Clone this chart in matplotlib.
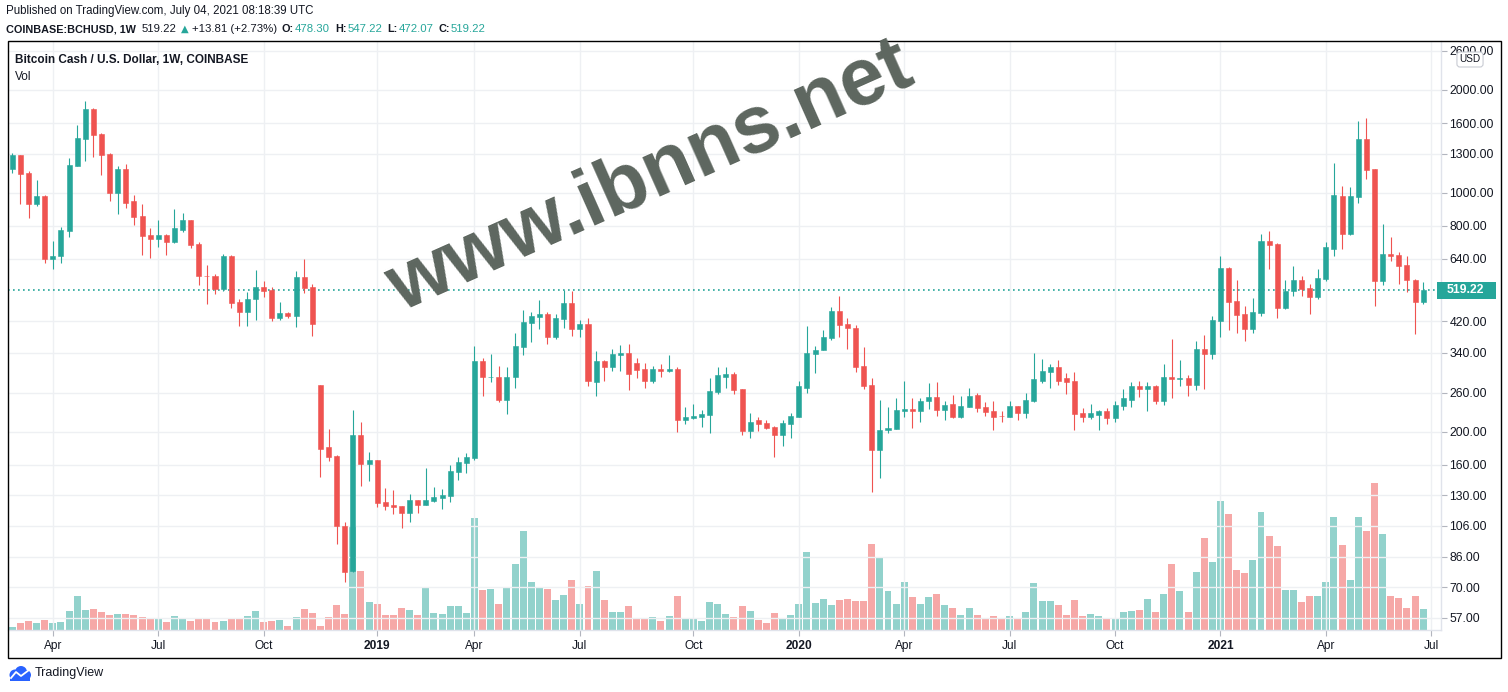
import matplotlib
matplotlib.use("Agg")
import matplotlib.pyplot as plt
from matplotlib.patches import Rectangle, Circle
from matplotlib.ticker import FixedLocator, NullLocator, FuncFormatter
import numpy as np
import pandas as pd

plt.rcParams["font.family"] = ["Liberation Sans", "DejaVu Sans"]

# weekly BCH/USD candles (Coinbase), first bar = week of 2018-02-26
first_week = "2018-02-26"

opens = [1172, 1287, 1143, 930, 977, 642, 651, 775, 1197, 1436, 1760, 1488, 1300, 998, 1172, 943, 853, 751, 734, 751, 719, 780,
         835, 709, 572, 570, 524, 655, 479, 448, 490, 530, 520, 429, 444, 435, 568, 530, 274, 180, 170, 106, 78.3, 196,
         160.4, 165, 124.4, 121.6, 121, 115.6, 126, 121.6, 125.2, 127.8, 129.7, 152, 161.6, 167.6, 321.6, 288.5, 289.8, 248, 288.5, 352.5, 415.5, 432,
         441, 377.5, 427, 476, 399, 412, 279.8, 321.6, 308, 335, 339, 316.5, 305.5, 281, 305.5, 301.5, 305.5, 216.6, 219.8, 221, 224, 261,
         289.8, 294, 266.3, 201, 215.5, 212, 206, 196, 211, 221, 269, 336.5, 346, 375, 451, 412, 403, 312, 274, 177, 202, 204,
         230, 233.5, 230, 245, 252, 232, 241.6, 221, 236.5, 255.5, 236.5, 230, 222.3, 221, 238, 227, 246.5, 282, 299, 308, 286, 281,
         227, 221, 224, 230, 219.8, 238, 248, 271, 267, 271, 245.3, 289.8, 284.5, 286.4, 274.5, 350, 336.5, 421, 604, 482, 441,
         399, 444, 724, 709, 460, 516, 556, 527, 495, 561, 686.5, 977, 759, 970, 1436, 1172, 552, 663, 658, 615, 556, 478.30]

highs = [1311, 1290, 1156, 1088, 984, 724, 792, 1264, 1581, 1862, 1773, 1498, 1308, 1194, 1214, 984, 930, 786, 835, 759, 894, 875,
         835, 719, 615, 579, 663, 658, 490, 513, 596, 552, 530, 479, 448, 592, 642, 541, 274, 204, 171, 108.5, 232, 213,
         174.5, 165, 136.6, 134.7, 121, 131, 126, 156.4, 137.6, 135.6, 159.6, 168.8, 173.2, 355, 328.6, 336.5, 312, 310, 388, 454.5, 448, 486,
         448, 441, 519, 515, 424, 429, 344, 325, 350, 358, 361, 329, 316.5, 312, 314.6, 334, 308, 236.5, 241.6, 232, 286, 308,
         308, 298, 266.3, 227, 221, 215.5, 207.5, 215.5, 227, 281, 407, 355, 395.5, 462.6, 498.5, 429, 409, 352.5, 286, 247, 236.5, 250,
         282, 250, 250, 277, 279, 246.5, 255.5, 253.6, 269, 259, 243.5, 245.3, 230, 246.5, 238, 259, 339, 327, 314.6, 325, 297, 299,
         235, 241.6, 232, 235, 246.5, 267, 279, 281, 279, 274.5, 314.6, 372, 323.4, 292, 367.4, 383.4, 435, 655, 608, 556, 466,
         493, 759, 775, 714, 556, 611, 570.6, 541, 600, 719, 1223, 1045, 1038, 1626, 1656, 1172, 812, 740, 672, 655, 560, 547.22]

lows = [1145, 928, 841, 913, 624, 600, 624, 742, 1197, 1237, 1272, 1127, 943, 869, 900, 803, 658, 646, 696, 658, 714, 770,
        688, 537, 472, 506, 517, 460, 407, 407, 424, 495, 421, 424, 429, 404, 509, 380, 147, 164, 93.5, 72.7, 77.8, 139,
        143, 120, 118, 115, 104.5, 109, 115.6, 121.6, 124.4, 119, 124, 144, 151, 165, 253.6, 279.8, 243.5, 225.5, 269, 335.6, 365, 399,
        361, 373, 401, 381, 377.5, 271, 253.6, 281, 300, 300, 265, 286, 269, 277.5, 289.8, 298, 199.5, 211, 217, 206.5, 197.6, 257,
        268, 257, 195, 191, 201, 203, 169, 182, 191, 221, 259.5, 296, 346, 370, 377.5, 350, 299, 266.7, 133, 146, 197.6, 204,
        221, 205, 214, 233.5, 222.7, 216.6, 219.8, 219.8, 236.5, 228.7, 222.7, 202, 214, 221, 215.5, 219.8, 243.5, 277, 267.5, 274.5, 257, 202,
        214, 218, 202, 211, 214, 232, 236.5, 251.8, 230, 241.6, 240, 250, 271, 253.6, 263.8, 267, 327, 377.5, 396, 388, 367.4,
        388, 435, 600, 429, 457, 498.5, 498.5, 441, 490, 552, 651, 686.5, 750, 932, 1095, 466, 537, 633, 541, 513, 385.5, 472.07]

closes = [1287, 1135, 930, 977, 642, 655, 780, 1206, 1447, 1760, 1477, 1290, 998, 1172, 936, 847, 745, 734, 751, 719, 786, 835,
          704, 570, 570, 524, 655, 476, 448, 490, 530, 517, 429, 444, 435, 568, 527, 412, 178, 169, 105.5, 77.8, 196, 160.4,
          165, 123.4, 121, 120.2, 115.6, 126, 121.6, 126, 128.8, 130.3, 153, 162.8, 168.8, 321.6, 288.5, 289.8, 248, 289.8, 355, 418, 435, 441,
          377.5, 429, 476, 399, 412, 281, 321.6, 310, 336.5, 339, 295.5, 303.5, 281, 305.5, 301.5, 305.5, 216.6, 221, 222.3, 225.5, 262.6, 292,
          294, 264.5, 201, 214, 211, 205, 196, 212, 222.7, 271, 339, 347.5, 377.5, 451, 409, 401, 310, 272.6, 177, 202, 205, 232,
          233.5, 230, 246, 252, 232, 240, 221, 238, 253.6, 235, 228.7, 221, 221.5, 238, 227, 248, 284.5, 300, 308, 282, 280, 225.5,
          221, 227, 230, 219.8, 240, 250, 271, 267, 271, 245.3, 289.8, 284.5, 286.4, 274.5, 350, 336.5, 424, 604, 479, 438, 399,
          448, 724, 704, 460, 516, 556, 523, 495, 564, 691.5, 984, 759, 977, 1436, 1164, 552, 663, 655, 611, 556, 478.3, 519.22]

# weekly volume (relative units, thousands)
volumes = [9, 21, 26, 21, 29, 21, 23, 55, 99, 58, 61, 52, 44, 47, 47, 44, 38, 35, 32, 23, 41, 35,
           26, 35, 35, 23, 26, 35, 32, 41, 55, 23, 26, 29, 12, 38, 61, 50, 12, 38, 73, 47, 299, 169,
           82, 76, 44, 44, 64, 58, 44, 122, 50, 47, 70, 70, 50, 323, 116, 119, 76, 125, 189, 285, 137, 125,
           119, 87, 102, 145, 76, 128, 169, 87, 52, 52, 70, 32, 32, 38, 26, 41, 99, 35, 35, 26, 82, 76,
           47, 38, 70, 55, 29, 20, 50, 32, 44, 76, 224, 79, 90, 73, 87, 90, 84, 84, 247, 209, 113, 76,
           137, 96, 76, 96, 105, 73, 64, 44, 64, 44, 35, 41, 35, 41, 35, 52, 134, 84, 84, 73, 44, 87,
           41, 47, 41, 32, 35, 52, 55, 58, 90, 52, 105, 189, 113, 52, 166, 264, 195, 372, 334, 174, 163,
           201, 340, 270, 241, 116, 116, 82, 99, 99, 137, 325, 244, 145, 325, 285, 424, 276, 99, 93, 64, 99, 61]

price_ticks = [57, 70, 86, 106, 130, 160, 200, 260, 340, 420, 640, 800, 1000, 1300, 1600, 2000, 2600]
last_price = 519.22
change, change_pct = 13.81, 2.73

GREEN = "#26a69a"
RED = "#ef5350"
TEXT = "#131722"
GRID = "#eef0f3"

W, H = 1508, 692
fig = plt.figure(figsize=(W / 100, H / 100), dpi=100)
renderer = fig.canvas.get_renderer()


def fx(px):
    return px / W


def fy(py):
    return 1 - py / H


rect = [fx(8), fy(630), fx(1441) - fx(8), fy(41) - fy(630)]
ax_vol = fig.add_axes(rect)
ax = fig.add_axes(rect, sharex=ax_vol)
ax.patch.set_alpha(0)

n = len(closes)
x = np.arange(n)
o = np.array(opens, dtype=float)
c = np.array(closes, dtype=float)
hi = np.array(highs, dtype=float)
lo = np.array(lows, dtype=float)
up = c >= o
colors = np.where(up, GREEN, RED)

# volume overlay
ax_vol.bar(x, volumes, width=0.86, color=colors, alpha=0.5, linewidth=0)
ax_vol.set_ylim(0, max(volumes) * 4.0)
ax_vol.set_axis_off()

# candles
ax.vlines(x, lo, hi, colors=colors, linewidth=0.8, zorder=3)
body_lo = np.minimum(o, c)
body_hi = np.maximum(o, c)
ax.bar(x, body_hi - body_lo, bottom=body_lo, width=0.62, color=colors,
       edgecolor=colors, linewidth=0.4, zorder=4)

ax.set_yscale("log")
ax.set_ylim(52.5, 2781)
ax.set_xlim(-0.53, n + 1.2)

ax.yaxis.set_major_locator(FixedLocator(price_ticks))
ax.yaxis.set_minor_locator(NullLocator())
ax.yaxis.set_major_formatter(FuncFormatter(lambda v, p: f"{v:.2f}"))
ax.yaxis.tick_right()
ax.tick_params(axis="y", length=4, width=0.8, color="#b2b5be", pad=2,
               labelsize=8.8, labelcolor=TEXT)

weeks = pd.date_range(first_week, periods=n + 1, freq="7D")
tick_pos = [i for i, d in enumerate(weeks) if d.month in (1, 4, 7, 10) and d.day <= 7]
tick_lab = [str(weeks[i].year) if weeks[i].month == 1 else weeks[i].strftime("%b") for i in tick_pos]
ax.set_xticks(tick_pos)
ax.set_xticklabels(tick_lab)
for t, lab in zip(ax.get_xticklabels(), tick_lab):
    if lab.isdigit():
        t.set_fontweight("bold")
ax.tick_params(axis="x", length=4, width=0.8, color="#b2b5be", pad=3,
               labelsize=8.6, labelcolor=TEXT)

ax.grid(True, color=GRID, linewidth=1, zorder=0)
ax.set_axisbelow(True)
for side in ["top", "left"]:
    ax.spines[side].set_visible(False)
for side in ["right", "bottom"]:
    ax.spines[side].set_color("#e0e3eb")
    ax.spines[side].set_linewidth(1)

# last price line and label
ax.axhline(last_price, color=GREEN, linestyle=(0, (1, 2)), linewidth=1.2, zorder=2)
_, ypx = ax.transData.transform((0, last_price))
fig.add_artist(Rectangle((fx(1437), ypx / H - 8.5 / H), 59 / W, 17 / H,
                         transform=fig.transFigure, fc=GREEN, ec="none", zorder=5))
fig.text(fx(1447), ypx / H, f"{last_price:.2f}", ha="left", va="center",
         color="white", fontweight="bold", fontsize=8.8, zorder=6)

# currency badge
fig.text(fx(1470), fy(59.5), "USD", ha="center", va="center", fontsize=7.2, color=TEXT,
         bbox=dict(boxstyle="round,pad=0.25,rounding_size=0.3", fc="white", ec="#c8cbd3", lw=0.8),
         zorder=7)

# outer frame
fig.add_artist(Rectangle((fx(8), fy(658)), fx(1501) - fx(8), fy(41) - fy(658),
                         transform=fig.transFigure, fill=False, ec="black", lw=1.0))

# header
fig.text(fx(6), fy(11), "Published on TradingView.com, July 04, 2021 08:18:39 UTC",
         ha="left", va="center", fontsize=8.3, color=TEXT)

row = fy(29)
pieces = [
    ("COINBASE:BCHUSD, 1W", 0, dict(fontsize=7.8, fontweight="bold", color=TEXT)),
    (f"{last_price:.2f}", 6, dict(fontsize=8.2, color=TEXT)),
    ("\u25B2", 4, dict(fontsize=7.2, color=GREEN, family="DejaVu Sans")),
    (f"+{change:.2f} (+{change_pct:.2f}%)", 3, dict(fontsize=8.2, color=TEXT)),
]
for key, val in [("O:", opens[-1]), ("H:", highs[-1]), ("L:", lows[-1]), ("C:", closes[-1])]:
    pieces.append((key, 5, dict(fontsize=7.8, fontweight="bold", color=TEXT)))
    pieces.append((f"{val:.2f}", 1, dict(fontsize=8.2, color=GREEN)))

cursor = 6
for s, gap, style in pieces:
    cursor += gap
    t = fig.text(fx(cursor), row, s, ha="left", va="center", **style)
    cursor = t.get_window_extent(renderer).x1

fig.text(fx(15), fy(60), "Bitcoin Cash / U.S. Dollar, 1W, COINBASE", ha="left", va="center",
         fontsize=8.5, fontweight="bold", color=TEXT)
fig.text(fx(15), fy(77), "Vol", ha="left", va="center", fontsize=8.5, color=TEXT)

# footer logo
ax_logo = fig.add_axes([fx(9), fy(681), 22 / W, 15 / H])
ax_logo.set_xlim(0, 22)
ax_logo.set_ylim(0, 15)
ax_logo.set_axis_off()
for cx, cy, r in [(6, 6, 5.5), (12, 9, 6), (17, 6, 5)]:
    ax_logo.add_patch(Circle((cx, cy), r, color="#2962ff", lw=0))
ax_logo.add_patch(Rectangle((1, 0.5), 20, 5, color="#2962ff", lw=0))
ax_logo.plot([2, 7, 12, 20], [3, 9, 5, 11], color="white", lw=1.3)
fig.text(fx(35), fy(673), "TradingView", ha="left", va="center", fontsize=9, color=TEXT)

# watermark
fig.text(fx(650), fy(178), "www.ibnns.net", rotation=24, rotation_mode="anchor",
         ha="center", va="center", fontsize=58, fontweight="bold", color="#5d665f", zorder=20)

fig.savefig("out.png", dpi=100)
